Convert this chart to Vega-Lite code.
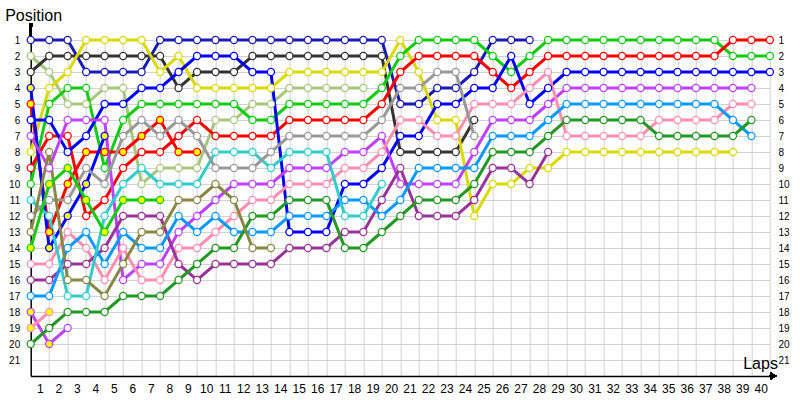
{
"$schema": "https://vega.github.io/schema/vega-lite/v6.json",
"width": 739.2, "height": 336,
"autosize": {"type": "none"},
"padding": {"left": 30.7, "top": 40, "right": 30.1, "bottom": 24},
"background": "white",
"config": {"font": "Liberation Sans", "view": {"stroke": null}, "axisX": {"labelOverlap": false, "labelFlush": false}},
"data": {"values": [
{"d":"navy","l":0,"p":1},{"d":"navy","l":1,"p":1},{"d":"navy","l":2,"p":1},{"d":"navy","l":3,"p":3},{"d":"navy","l":4,"p":3},{"d":"navy","l":5,"p":3},{"d":"navy","l":6,"p":3},{"d":"navy","l":7,"p":1},{"d":"navy","l":8,"p":1},{"d":"navy","l":9,"p":1},{"d":"navy","l":10,"p":1},{"d":"navy","l":11,"p":1},{"d":"navy","l":12,"p":1},{"d":"navy","l":13,"p":1},{"d":"navy","l":14,"p":1},{"d":"navy","l":15,"p":1},{"d":"navy","l":16,"p":1},{"d":"navy","l":17,"p":1},{"d":"navy","l":18,"p":1},{"d":"navy","l":19,"p":1},{"d":"navy","l":20,"p":5},{"d":"navy","l":21,"p":5},{"d":"navy","l":22,"p":4},{"d":"navy","l":23,"p":4},{"d":"navy","l":24,"p":3},{"d":"navy","l":25,"p":1},{"d":"navy","l":26,"p":1},{"d":"navy","l":27,"p":1},
{"d":"lgreen","l":0,"p":2},{"d":"lgreen","l":1,"p":3},{"d":"lgreen","l":2,"p":5},{"d":"lgreen","l":3,"p":5},{"d":"lgreen","l":4,"p":4},{"d":"lgreen","l":5,"p":4},{"d":"lgreen","l":6,"p":10},{"d":"lgreen","l":7,"p":9},{"d":"lgreen","l":8,"p":9},{"d":"lgreen","l":9,"p":9},{"d":"lgreen","l":10,"p":6},{"d":"lgreen","l":11,"p":6},{"d":"lgreen","l":12,"p":5},{"d":"lgreen","l":13,"p":5},{"d":"lgreen","l":14,"p":4},{"d":"lgreen","l":15,"p":4},{"d":"lgreen","l":16,"p":4},{"d":"lgreen","l":17,"p":4},{"d":"lgreen","l":18,"p":4},
{"d":"black","l":0,"p":3},{"d":"black","l":1,"p":2},{"d":"black","l":2,"p":2},{"d":"black","l":3,"p":2},{"d":"black","l":4,"p":2},{"d":"black","l":5,"p":2},{"d":"black","l":6,"p":2},{"d":"black","l":7,"p":2},{"d":"black","l":8,"p":4},{"d":"black","l":9,"p":3},{"d":"black","l":10,"p":3},{"d":"black","l":11,"p":3},{"d":"black","l":12,"p":2},{"d":"black","l":13,"p":2},{"d":"black","l":14,"p":2},{"d":"black","l":15,"p":2},{"d":"black","l":16,"p":2},{"d":"black","l":17,"p":2},{"d":"black","l":18,"p":2},{"d":"black","l":19,"p":2},{"d":"black","l":20,"p":8},{"d":"black","l":21,"p":8},{"d":"black","l":22,"p":8},{"d":"black","l":23,"p":8},{"d":"black","l":24,"p":6},
{"d":"yellow","l":0,"p":8},{"d":"yellow","l":1,"p":4},{"d":"yellow","l":2,"p":3},{"d":"yellow","l":3,"p":1},{"d":"yellow","l":4,"p":1},{"d":"yellow","l":5,"p":1},{"d":"yellow","l":6,"p":1},{"d":"yellow","l":7,"p":3},{"d":"yellow","l":8,"p":2},{"d":"yellow","l":9,"p":4},{"d":"yellow","l":10,"p":4},{"d":"yellow","l":11,"p":4},{"d":"yellow","l":12,"p":4},{"d":"yellow","l":13,"p":4},{"d":"yellow","l":14,"p":3},{"d":"yellow","l":15,"p":3},{"d":"yellow","l":16,"p":3},{"d":"yellow","l":17,"p":3},{"d":"yellow","l":18,"p":3},{"d":"yellow","l":19,"p":3},{"d":"yellow","l":20,"p":1},{"d":"yellow","l":21,"p":3},{"d":"yellow","l":22,"p":6},{"d":"yellow","l":23,"p":6},{"d":"yellow","l":24,"p":12},{"d":"yellow","l":25,"p":10},{"d":"yellow","l":26,"p":10},{"d":"yellow","l":27,"p":9},{"d":"yellow","l":28,"p":9},{"d":"yellow","l":29,"p":8},{"d":"yellow","l":30,"p":8},{"d":"yellow","l":31,"p":8},{"d":"yellow","l":32,"p":8},{"d":"yellow","l":33,"p":8},{"d":"yellow","l":34,"p":8},{"d":"yellow","l":35,"p":8},{"d":"yellow","l":36,"p":8},{"d":"yellow","l":37,"p":8},{"d":"yellow","l":38,"p":8},
{"d":"green","l":0,"p":10},{"d":"green","l":1,"p":5},{"d":"green","l":2,"p":4},{"d":"green","l":3,"p":4},{"d":"green","l":4,"p":9},{"d":"green","l":5,"p":6},{"d":"green","l":6,"p":5},{"d":"green","l":7,"p":5},{"d":"green","l":8,"p":5},{"d":"green","l":9,"p":5},{"d":"green","l":10,"p":5},{"d":"green","l":11,"p":5},{"d":"green","l":12,"p":6},{"d":"green","l":13,"p":6},{"d":"green","l":14,"p":5},{"d":"green","l":15,"p":5},{"d":"green","l":16,"p":5},{"d":"green","l":17,"p":5},{"d":"green","l":18,"p":5},{"d":"green","l":19,"p":4},{"d":"green","l":20,"p":2},{"d":"green","l":21,"p":1},{"d":"green","l":22,"p":1},{"d":"green","l":23,"p":1},{"d":"green","l":24,"p":1},{"d":"green","l":25,"p":2},{"d":"green","l":26,"p":3},{"d":"green","l":27,"p":2},{"d":"green","l":28,"p":1},{"d":"green","l":29,"p":1},{"d":"green","l":30,"p":1},{"d":"green","l":31,"p":1},{"d":"green","l":32,"p":1},{"d":"green","l":33,"p":1},{"d":"green","l":34,"p":1},{"d":"green","l":35,"p":1},{"d":"green","l":36,"p":1},{"d":"green","l":37,"p":1},{"d":"green","l":38,"p":2},{"d":"green","l":39,"p":2},{"d":"green","l":40,"p":2},
{"d":"red","l":0,"p":9},{"d":"red","l":1,"p":7},{"d":"red","l":2,"p":7},{"d":"red","l":3,"p":12},{"d":"red","l":4,"p":11},{"d":"red","l":5,"p":9},{"d":"red","l":6,"p":8},{"d":"red","l":7,"p":8},{"d":"red","l":8,"p":7},{"d":"red","l":9,"p":6},{"d":"red","l":10,"p":7},{"d":"red","l":11,"p":7},{"d":"red","l":12,"p":7},{"d":"red","l":13,"p":7},{"d":"red","l":14,"p":6},{"d":"red","l":15,"p":6},{"d":"red","l":16,"p":6},{"d":"red","l":17,"p":6},{"d":"red","l":18,"p":6},{"d":"red","l":19,"p":5},{"d":"red","l":20,"p":3},{"d":"red","l":21,"p":2},{"d":"red","l":22,"p":2},{"d":"red","l":23,"p":2},{"d":"red","l":24,"p":2},{"d":"red","l":25,"p":3},{"d":"red","l":26,"p":4},{"d":"red","l":27,"p":3},{"d":"red","l":28,"p":2},{"d":"red","l":29,"p":2},{"d":"red","l":30,"p":2},{"d":"red","l":31,"p":2},{"d":"red","l":32,"p":2},{"d":"red","l":33,"p":2},{"d":"red","l":34,"p":2},{"d":"red","l":35,"p":2},{"d":"red","l":36,"p":2},{"d":"red","l":37,"p":2},{"d":"red","l":38,"p":1},{"d":"red","l":39,"p":1},{"d":"red","l":40,"p":1},
{"d":"red2","l":0,"p":5,"pit":1},{"d":"red2","l":1,"p":13,"pit":1},{"d":"red2","l":2,"p":10,"pit":1},{"d":"red2","l":3,"p":8,"pit":1},{"d":"red2","l":4,"p":8,"pit":1},{"d":"red2","l":5,"p":8,"pit":1},{"d":"red2","l":6,"p":7,"pit":1},{"d":"red2","l":7,"p":6,"pit":1},{"d":"red2","l":8,"p":8,"pit":1},{"d":"red2","l":9,"p":8,"pit":1},
{"d":"blue","l":0,"p":6},{"d":"blue","l":1,"p":6},{"d":"blue","l":2,"p":8},{"d":"blue","l":3,"p":7},{"d":"blue","l":4,"p":5},{"d":"blue","l":5,"p":5},{"d":"blue","l":6,"p":4},{"d":"blue","l":7,"p":4},{"d":"blue","l":8,"p":3},{"d":"blue","l":9,"p":2},{"d":"blue","l":10,"p":2},{"d":"blue","l":11,"p":2},{"d":"blue","l":12,"p":3},{"d":"blue","l":13,"p":3},{"d":"blue","l":14,"p":13},{"d":"blue","l":15,"p":13},{"d":"blue","l":16,"p":13},{"d":"blue","l":17,"p":10},{"d":"blue","l":18,"p":10},{"d":"blue","l":19,"p":9},{"d":"blue","l":20,"p":7},{"d":"blue","l":21,"p":7},{"d":"blue","l":22,"p":5},{"d":"blue","l":23,"p":5},{"d":"blue","l":24,"p":4},{"d":"blue","l":25,"p":4},{"d":"blue","l":26,"p":2},{"d":"blue","l":27,"p":5},{"d":"blue","l":28,"p":4},{"d":"blue","l":29,"p":3},{"d":"blue","l":30,"p":3},{"d":"blue","l":31,"p":3},{"d":"blue","l":32,"p":3},{"d":"blue","l":33,"p":3},{"d":"blue","l":34,"p":3},{"d":"blue","l":35,"p":3},{"d":"blue","l":36,"p":3},{"d":"blue","l":37,"p":3},{"d":"blue","l":38,"p":3},{"d":"blue","l":39,"p":3},{"d":"blue","l":40,"p":3},
{"d":"blue2","l":0,"p":4,"pit":1},{"d":"blue2","l":1,"p":14,"pit":1},{"d":"blue2","l":2,"p":12,"pit":1},{"d":"blue2","l":3,"p":10,"pit":1},{"d":"blue2","l":4,"p":7,"pit":1},
{"d":"violet","l":0,"p":7},{"d":"violet","l":1,"p":9},{"d":"violet","l":2,"p":6},{"d":"violet","l":3,"p":6},{"d":"violet","l":4,"p":6},{"d":"violet","l":5,"p":16},{"d":"violet","l":6,"p":15},{"d":"violet","l":7,"p":15},{"d":"violet","l":8,"p":13},{"d":"violet","l":9,"p":12},{"d":"violet","l":10,"p":11},{"d":"violet","l":11,"p":10},{"d":"violet","l":12,"p":10},{"d":"violet","l":13,"p":10},{"d":"violet","l":14,"p":9},{"d":"violet","l":15,"p":9},{"d":"violet","l":16,"p":9},{"d":"violet","l":17,"p":8},{"d":"violet","l":18,"p":8},{"d":"violet","l":19,"p":7},{"d":"violet","l":20,"p":10},{"d":"violet","l":21,"p":10},{"d":"violet","l":22,"p":10},{"d":"violet","l":23,"p":10},{"d":"violet","l":24,"p":8},{"d":"violet","l":25,"p":6},{"d":"violet","l":26,"p":6},{"d":"violet","l":27,"p":6},{"d":"violet","l":28,"p":5},{"d":"violet","l":29,"p":4},{"d":"violet","l":30,"p":4},{"d":"violet","l":31,"p":4},{"d":"violet","l":32,"p":4},{"d":"violet","l":33,"p":4},{"d":"violet","l":34,"p":4},{"d":"violet","l":35,"p":4},{"d":"violet","l":36,"p":4},{"d":"violet","l":37,"p":4},{"d":"violet","l":38,"p":4},{"d":"violet","l":39,"p":4},
{"d":"violet2","l":0,"p":18,"pit":1},{"d":"violet2","l":1,"p":20,"pit":1},{"d":"violet2","l":2,"p":19},
{"d":"pink","l":0,"p":15},{"d":"pink","l":1,"p":15},{"d":"pink","l":2,"p":13},{"d":"pink","l":3,"p":14},{"d":"pink","l":4,"p":16},{"d":"pink","l":5,"p":14},{"d":"pink","l":6,"p":16},{"d":"pink","l":7,"p":16},{"d":"pink","l":8,"p":14},{"d":"pink","l":9,"p":14},{"d":"pink","l":10,"p":13},{"d":"pink","l":11,"p":12},{"d":"pink","l":12,"p":11},{"d":"pink","l":13,"p":11},{"d":"pink","l":14,"p":10},{"d":"pink","l":15,"p":10},{"d":"pink","l":16,"p":10},{"d":"pink","l":17,"p":9},{"d":"pink","l":18,"p":9},{"d":"pink","l":19,"p":8},{"d":"pink","l":20,"p":6},{"d":"pink","l":21,"p":6},{"d":"pink","l":22,"p":7},{"d":"pink","l":23,"p":7},{"d":"pink","l":24,"p":5},{"d":"pink","l":25,"p":5},{"d":"pink","l":26,"p":5},{"d":"pink","l":27,"p":4},{"d":"pink","l":28,"p":3},{"d":"pink","l":29,"p":7},{"d":"pink","l":30,"p":7},{"d":"pink","l":31,"p":7},{"d":"pink","l":32,"p":7},{"d":"pink","l":33,"p":7},{"d":"pink","l":34,"p":6},{"d":"pink","l":35,"p":6},{"d":"pink","l":36,"p":6},{"d":"pink","l":37,"p":6},{"d":"pink","l":38,"p":5},{"d":"pink","l":39,"p":5},
{"d":"pink2","l":0,"p":19,"pit":1},{"d":"pink2","l":1,"p":18,"pit":1},
{"d":"purple","l":0,"p":16},{"d":"purple","l":1,"p":16},{"d":"purple","l":2,"p":15},{"d":"purple","l":3,"p":15},{"d":"purple","l":4,"p":14},{"d":"purple","l":5,"p":12},{"d":"purple","l":6,"p":12},{"d":"purple","l":7,"p":12},{"d":"purple","l":8,"p":15},{"d":"purple","l":9,"p":16},{"d":"purple","l":10,"p":15},{"d":"purple","l":11,"p":15},{"d":"purple","l":12,"p":15},{"d":"purple","l":13,"p":15},{"d":"purple","l":14,"p":14},{"d":"purple","l":15,"p":14},{"d":"purple","l":16,"p":14},{"d":"purple","l":17,"p":13},{"d":"purple","l":18,"p":13},{"d":"purple","l":19,"p":11},{"d":"purple","l":20,"p":9},{"d":"purple","l":21,"p":12},{"d":"purple","l":22,"p":12},{"d":"purple","l":23,"p":12},{"d":"purple","l":24,"p":11},{"d":"purple","l":25,"p":9},{"d":"purple","l":26,"p":9},{"d":"purple","l":27,"p":10},{"d":"purple","l":28,"p":8},
{"d":"sky","l":0,"p":17},{"d":"sky","l":1,"p":17},{"d":"sky","l":2,"p":14},{"d":"sky","l":3,"p":13},{"d":"sky","l":4,"p":15},{"d":"sky","l":5,"p":13},{"d":"sky","l":6,"p":14},{"d":"sky","l":7,"p":14},{"d":"sky","l":8,"p":12},{"d":"sky","l":9,"p":13},{"d":"sky","l":10,"p":12},{"d":"sky","l":11,"p":13},{"d":"sky","l":12,"p":13},{"d":"sky","l":13,"p":13},{"d":"sky","l":14,"p":12},{"d":"sky","l":15,"p":12},{"d":"sky","l":16,"p":12},{"d":"sky","l":17,"p":11},{"d":"sky","l":18,"p":11},{"d":"sky","l":19,"p":12},{"d":"sky","l":20,"p":11},{"d":"sky","l":21,"p":9},{"d":"sky","l":22,"p":9},{"d":"sky","l":23,"p":9},{"d":"sky","l":24,"p":9},{"d":"sky","l":25,"p":7},{"d":"sky","l":26,"p":7},{"d":"sky","l":27,"p":7},{"d":"sky","l":28,"p":6},{"d":"sky","l":29,"p":5},{"d":"sky","l":30,"p":5},{"d":"sky","l":31,"p":5},{"d":"sky","l":32,"p":5},{"d":"sky","l":33,"p":5},{"d":"sky","l":34,"p":5},{"d":"sky","l":35,"p":5},{"d":"sky","l":36,"p":5},{"d":"sky","l":37,"p":5},{"d":"sky","l":38,"p":6},{"d":"sky","l":39,"p":7},
{"d":"dkgreen","l":0,"p":20},{"d":"dkgreen","l":1,"p":19},{"d":"dkgreen","l":2,"p":18},{"d":"dkgreen","l":3,"p":18},{"d":"dkgreen","l":4,"p":18},{"d":"dkgreen","l":5,"p":17},{"d":"dkgreen","l":6,"p":17},{"d":"dkgreen","l":7,"p":17},{"d":"dkgreen","l":8,"p":16},{"d":"dkgreen","l":9,"p":15},{"d":"dkgreen","l":10,"p":14},{"d":"dkgreen","l":11,"p":14},{"d":"dkgreen","l":12,"p":12},{"d":"dkgreen","l":13,"p":12},{"d":"dkgreen","l":14,"p":11},{"d":"dkgreen","l":15,"p":11},{"d":"dkgreen","l":16,"p":11},{"d":"dkgreen","l":17,"p":14},{"d":"dkgreen","l":18,"p":14},{"d":"dkgreen","l":19,"p":13},{"d":"dkgreen","l":20,"p":12},{"d":"dkgreen","l":21,"p":11},{"d":"dkgreen","l":22,"p":11},{"d":"dkgreen","l":23,"p":11},{"d":"dkgreen","l":24,"p":10},{"d":"dkgreen","l":25,"p":8},{"d":"dkgreen","l":26,"p":8},{"d":"dkgreen","l":27,"p":8},{"d":"dkgreen","l":28,"p":7},{"d":"dkgreen","l":29,"p":6},{"d":"dkgreen","l":30,"p":6},{"d":"dkgreen","l":31,"p":6},{"d":"dkgreen","l":32,"p":6},{"d":"dkgreen","l":33,"p":6},{"d":"dkgreen","l":34,"p":7},{"d":"dkgreen","l":35,"p":7},{"d":"dkgreen","l":36,"p":7},{"d":"dkgreen","l":37,"p":7},{"d":"dkgreen","l":38,"p":7},{"d":"dkgreen","l":39,"p":6},
{"d":"cyan","l":0,"p":11},{"d":"cyan","l":1,"p":12},{"d":"cyan","l":2,"p":17},{"d":"cyan","l":3,"p":17},{"d":"cyan","l":4,"p":12},{"d":"cyan","l":5,"p":10},{"d":"cyan","l":6,"p":9},{"d":"cyan","l":7,"p":10},{"d":"cyan","l":8,"p":10},{"d":"cyan","l":9,"p":10},{"d":"cyan","l":10,"p":8},{"d":"cyan","l":11,"p":8},{"d":"cyan","l":12,"p":8},{"d":"cyan","l":13,"p":9},{"d":"cyan","l":14,"p":8},{"d":"cyan","l":15,"p":8},{"d":"cyan","l":16,"p":8},{"d":"cyan","l":17,"p":12},{"d":"cyan","l":18,"p":12},{"d":"cyan","l":19,"p":10},
{"d":"gray","l":0,"p":12},{"d":"gray","l":1,"p":11},{"d":"gray","l":2,"p":11},{"d":"gray","l":3,"p":9},{"d":"gray","l":4,"p":10},{"d":"gray","l":5,"p":7},{"d":"gray","l":6,"p":6},{"d":"gray","l":7,"p":7},{"d":"gray","l":8,"p":6},{"d":"gray","l":9,"p":7},{"d":"gray","l":10,"p":9},{"d":"gray","l":11,"p":9},{"d":"gray","l":12,"p":9},{"d":"gray","l":13,"p":8},{"d":"gray","l":14,"p":7},{"d":"gray","l":15,"p":7},{"d":"gray","l":16,"p":7},{"d":"gray","l":17,"p":7},{"d":"gray","l":18,"p":7},{"d":"gray","l":19,"p":6},{"d":"gray","l":20,"p":4},{"d":"gray","l":21,"p":4},{"d":"gray","l":22,"p":3},{"d":"gray","l":23,"p":3},{"d":"gray","l":24,"p":7},
{"d":"olive","l":0,"p":13},{"d":"olive","l":1,"p":8},{"d":"olive","l":2,"p":16},{"d":"olive","l":3,"p":16},{"d":"olive","l":4,"p":17},{"d":"olive","l":5,"p":15},{"d":"olive","l":6,"p":13},{"d":"olive","l":7,"p":13},{"d":"olive","l":8,"p":11},{"d":"olive","l":9,"p":11},{"d":"olive","l":10,"p":10},{"d":"olive","l":11,"p":11},{"d":"olive","l":12,"p":14},{"d":"olive","l":13,"p":14},
{"d":"green2","l":0,"p":14,"pit":1},{"d":"green2","l":1,"p":10,"pit":1},{"d":"green2","l":2,"p":9,"pit":1},{"d":"green2","l":3,"p":11,"pit":1},{"d":"green2","l":4,"p":13,"pit":1},{"d":"green2","l":5,"p":11,"pit":1},{"d":"green2","l":6,"p":11,"pit":1},{"d":"green2","l":7,"p":11,"pit":1}
]},
"encoding": {
  "x": {"field": "l", "type": "quantitative", "scale": {"domain": [0, 40], "nice": false, "zero": false},
   "axis": {"values": [1,2,3,4,5,6,7,8,9,10,11,12,13,14,15,16,17,18,19,20,21,22,23,24,25,26,27,28,29,30,31,32,33,34,35,36,37,38,39,40],
    "domainColor": "black", "domainWidth": 1.5, "ticks": false, "grid": true, "gridColor": "#d2d2d2", "gridWidth": 1,
    "labelFontSize": 12, "labelColor": "black", "labelOffset": -9.24, "labelPadding": 7, "labelFlush": false, "labelOverlap": false, "labelBound": false,
    "title": "Laps", "titleX": 712, "titleY": -13, "titleAlign": "left", "titleBaseline": "middle", "titleFontSize": 16, "titleFontWeight": "normal", "titleColor": "black"}}
},
"layer": [
{"mark": {"type": "rule", "clip": false, "strokeWidth": 1.5, "color": "black"},
 "encoding": {"x": {"datum": 0}, "y": {"datum": 0.06, "axis": null}, "y2": {"datum": 1}}},
{"mark": {"type": "rule", "clip": false, "strokeWidth": 1.5, "color": "black"},
 "encoding": {"x": {"datum": 40}, "x2": {"datum": 40.3}, "y": {"datum": 22, "axis": null}}},
{"mark": {"type": "point", "shape": "triangle-right", "filled": true, "size": 45, "color": "black", "opacity": 1, "clip": false},
 "encoding": {"x": {"datum": 40.2}, "y": {"datum": 22, "axis": null}}},
{"mark": {"type": "point", "shape": "circle", "filled": true, "size": 12, "color": "black", "opacity": 1, "clip": false},
 "encoding": {"x": {"datum": 0}, "y": {"datum": 0.06, "axis": null}}},
{"mark": {"type": "line", "strokeWidth": 3, "clip": false},
 "encoding": {
  "y": {"field": "p", "type": "quantitative", "scale": {"domain": [1, 22], "reverse": true, "nice": false, "zero": false},
   "axis": {"orient": "left", "values": [1,2,3,4,5,6,7,8,9,10,11,12,13,14,15,16,17,18,19,20,21],
    "domainColor": "black", "domainWidth": 1.5, "ticks": false, "grid": true, "gridColor": "#d2d2d2", "gridWidth": 1,
    "labelFontSize": 10, "labelColor": "black", "labelPadding": 11,
    "title": "Position", "titleAngle": 0, "titleX": -26, "titleY": -25, "titleAlign": "left", "titleBaseline": "middle", "titleFontSize": 16, "titleFontWeight": "normal", "titleColor": "black"}},
  "color": {"field": "d", "type": "nominal", "legend": null,
   "scale": {"domain": ["navy","lgreen","black","yellow","green","red","red2","blue","blue2","violet","violet2","pink","pink2","purple","sky","dkgreen","cyan","gray","olive","green2"],
             "range": ["#1a1ab4","#a6c87a","#333333","#dcd800","#11cc11","#ff0000","#ff0000","#0000ff","#0000ff","#bf40ff","#bf40ff","#ff8fb0","#ff8fb0","#993399","#0a99ff","#229922","#33cccc","#999999","#888844","#11cc11"]}},
  "order": {"field": "l", "type": "quantitative"}
 }},
{"mark": {"type": "point", "shape": "circle", "filled": true, "size": 50, "strokeWidth": 1.3, "opacity": 1, "clip": false},
 "encoding": {
  "y": {"field": "p", "type": "quantitative",
   "axis": {"orient": "right", "values": [1,2,3,4,5,6,7,8,9,10,11,12,13,14,15,16,17,18,19,20,21],
    "domain": false, "ticks": false, "grid": false, "labelFontSize": 10, "labelColor": "black", "labelPadding": 8, "title": null}},
  "stroke": {"field": "d", "type": "nominal", "legend": null,
   "scale": {"domain": ["navy","lgreen","black","yellow","green","red","red2","blue","blue2","violet","violet2","pink","pink2","purple","sky","dkgreen","cyan","gray","olive","green2"],
             "range": ["#1a1ab4","#a6c87a","#333333","#dcd800","#11cc11","#ff0000","#ff0000","#0000ff","#0000ff","#bf40ff","#bf40ff","#ff8fb0","#ff8fb0","#993399","#0a99ff","#229922","#33cccc","#999999","#888844","#11cc11"]}},
  "fill": {"condition": {"test": "datum.pit == 1", "value": "#ffff00"}, "value": "white"}
 }}
],
"resolve": {"scale": {"y": "shared"}, "axis": {"y": "independent"}}
}
